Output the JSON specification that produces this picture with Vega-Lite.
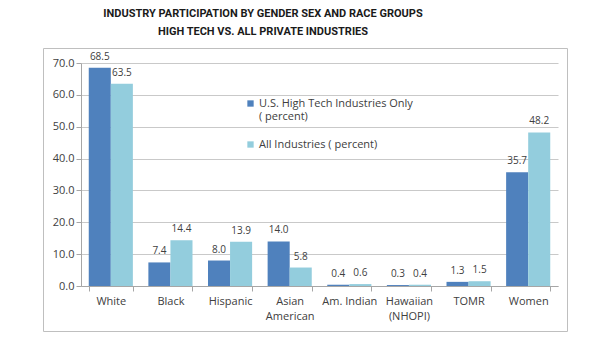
{
  "$schema": "https://vega.github.io/schema/vega-lite/v6.json",
  "autosize": "none",
  "width": 524,
  "height": 283,
  "padding": {"left": 43, "top": 48, "right": 29, "bottom": 8},
  "background": "white",
  "config": {
    "view": {"stroke": "#BFBFBF", "strokeWidth": 1},
    "font": "Open Sans"
  },
  "title": {
    "text": ["INDUSTRY PARTICIPATION BY GENDER SEX AND RACE GROUPS", "HIGH TECH VS. ALL PRIVATE INDUSTRIES"],
    "font": "Roboto",
    "fontSize": 11,
    "fontWeight": "bold",
    "color": "#1a1a1a",
    "lineHeight": 18,
    "anchor": "middle",
    "dx": -42,
    "offset": 11
  },
  "data": {
    "values": [
      {"group": "White", "series": "U.S. High Tech Industries Only ( percent)", "value": 68.5},
      {"group": "White", "series": "All Industries ( percent)", "value": 63.5},
      {"group": "Black", "series": "U.S. High Tech Industries Only ( percent)", "value": 7.4},
      {"group": "Black", "series": "All Industries ( percent)", "value": 14.4},
      {"group": "Hispanic", "series": "U.S. High Tech Industries Only ( percent)", "value": 8.0},
      {"group": "Hispanic", "series": "All Industries ( percent)", "value": 13.9},
      {"group": "Asian|American", "series": "U.S. High Tech Industries Only ( percent)", "value": 14.0},
      {"group": "Asian|American", "series": "All Industries ( percent)", "value": 5.8},
      {"group": "Am. Indian", "series": "U.S. High Tech Industries Only ( percent)", "value": 0.4},
      {"group": "Am. Indian", "series": "All Industries ( percent)", "value": 0.6},
      {"group": "Hawaiian|(NHOPI)", "series": "U.S. High Tech Industries Only ( percent)", "value": 0.3},
      {"group": "Hawaiian|(NHOPI)", "series": "All Industries ( percent)", "value": 0.4},
      {"group": "TOMR", "series": "U.S. High Tech Industries Only ( percent)", "value": 1.3},
      {"group": "TOMR", "series": "All Industries ( percent)", "value": 1.5},
      {"group": "Women", "series": "U.S. High Tech Industries Only ( percent)", "value": 35.7},
      {"group": "Women", "series": "All Industries ( percent)", "value": 48.2}
    ]
  },
  "layer": [
    {
      "mark": {"type": "bar"},
      "encoding": {
        "x": {
          "field": "group", "type": "nominal", "sort": null,
          "scale": {"range": [38, 515], "paddingInner": 0.26, "paddingOuter": 0.13},
          "axis": {
            "title": null, "orient": "bottom", "offset": -45,
            "tickBand": "extent", "tickSize": 5, "tickColor": "#A6A6A6",
            "domainColor": "#A6A6A6", "labelAngle": 0,
            "labelFont": "Open Sans", "labelFontSize": 11, "labelColor": "#404040",
            "labelPadding": 4, "labelLineHeight": 15,
            "labelExpr": "split(datum.label, '|')"
          }
        },
        "xOffset": {"field": "series", "type": "nominal", "sort": null, "scale": {"paddingInner": 0, "paddingOuter": 0}},
        "y": {
          "field": "value", "type": "quantitative",
          "scale": {"domain": [0, 70], "range": [238, 15], "nice": false, "zero": true},
          "axis": {
            "title": null, "orient": "left", "offset": -38,
            "values": [0, 10, 20, 30, 40, 50, 60, 70], "format": ".1f",
            "grid": true, "gridColor": "#C9C9C9", "tickSize": 5, "tickColor": "#A6A6A6", "domainColor": "#A6A6A6",
            "labelFont": "Open Sans", "labelFontSize": 11, "labelColor": "#404040", "labelPadding": 2
          }
        },
        "color": {
          "field": "series", "type": "nominal", "sort": null,
          "scale": {"range": ["#4F81BD", "#93CDDD"]},
          "legend": {
            "title": null, "orient": "none", "legendX": 202, "legendY": 50,
            "symbolType": "square", "symbolSize": 40, "symbolStrokeWidth": 0,
            "labelFont": "Open Sans", "labelFontSize": 11, "labelColor": "#404040",
            "labelLineHeight": 17, "rowPadding": 16, "padding": 0, "labelOffset": 3,
            "labelExpr": "datum.label == 'U.S. High Tech Industries Only ( percent)' ? ['U.S. High Tech Industries Only', '( percent)'] : datum.label"
          }
        }
      }
    },
    {
      "mark": {"type": "text", "baseline": "alphabetic", "dy": -8, "font": "Open Sans", "fontSize": 10, "color": "#404040"},
      "encoding": {
        "x": {"field": "group", "type": "nominal", "sort": null},
        "xOffset": {"field": "series", "type": "nominal", "sort": null},
        "y": {"field": "value", "type": "quantitative"},
        "text": {"field": "value", "type": "quantitative", "format": ".1f"}
      }
    }
  ]
}
